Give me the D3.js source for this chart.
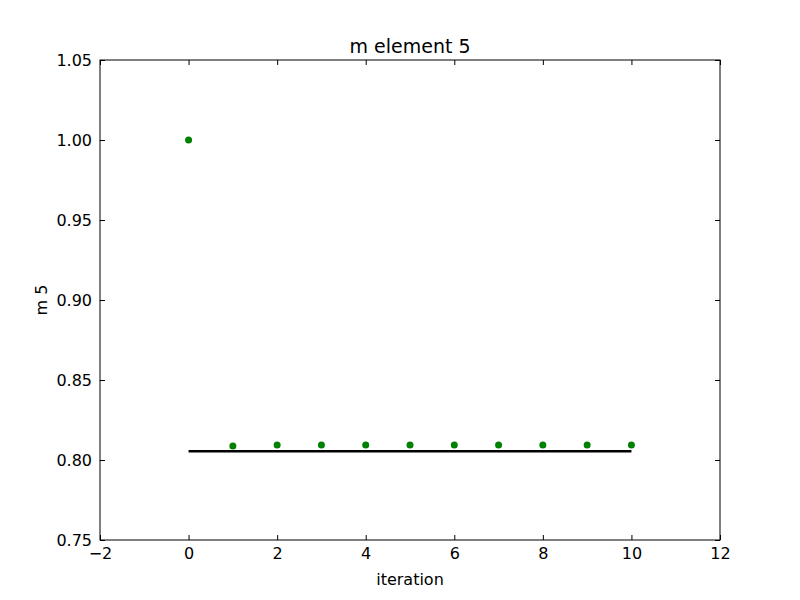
<!DOCTYPE html>
<html>
<head>
<meta charset="utf-8">
<script src="https://cdn.jsdelivr.net/npm/d3@7"></script>
<style>
  body { margin: 0; background: #fff; }
  text { font-family: "DejaVu Sans", sans-serif; }
</style>
</head>
<body>
<svg width="800" height="600"></svg>
<script>
// data
var iterations = [0, 1, 2, 3, 4, 5, 6, 7, 8, 9, 10];
var mValues = [1.0, 0.80875, 0.8094, 0.8094, 0.8094, 0.8094, 0.8094, 0.8094, 0.8094, 0.8094, 0.8094];
var refLineX = [0, 10];
var refLineY = 0.8054;
var xTicks = [-2, 0, 2, 4, 6, 8, 10, 12];
var yTicks = [0.75, 0.80, 0.85, 0.90, 0.95, 1.00, 1.05];

var svg = d3.select("svg"),
    pLeft = 100, pRight = 720, pTop = 60, pBottom = 540;

var x = d3.scaleLinear().domain([-2, 12]).range([pLeft, pRight]);
var y = d3.scaleLinear().domain([0.75, 1.05]).range([pBottom, pTop]);

// ticks pointing inward on all four sides
svg.append("g")
  .attr("transform", "translate(0," + pBottom + ")")
  .call(d3.axisBottom(x).tickValues(xTicks).tickSizeInner(-5).tickSizeOuter(0).tickPadding(8)
    .tickFormat(function (d) { return d < 0 ? "\u2212" + Math.abs(d) : d; }));
svg.append("g")
  .attr("transform", "translate(0," + pTop + ")")
  .call(d3.axisTop(x).tickValues(xTicks).tickSizeInner(-5).tickSizeOuter(0).tickFormat(""));
svg.append("g")
  .attr("transform", "translate(" + pLeft + ",0)")
  .call(d3.axisLeft(y).tickValues(yTicks).tickSizeInner(-5).tickSizeOuter(0).tickPadding(8)
    .tickFormat(d3.format(".2f")));
svg.append("g")
  .attr("transform", "translate(" + pRight + ",0)")
  .call(d3.axisRight(y).tickValues(yTicks).tickSizeInner(-5).tickSizeOuter(0).tickFormat(""));

svg.selectAll(".domain").remove();
svg.selectAll(".tick text").attr("font-size", "16px").attr("fill", "#000")
  .style("font-family", "DejaVu Sans, sans-serif");
svg.selectAll(".tick line").attr("stroke", "#000");

svg.append("rect")
  .attr("x", pLeft).attr("y", pTop)
  .attr("width", pRight - pLeft).attr("height", pBottom - pTop)
  .attr("fill", "none").attr("stroke", "#000").attr("stroke-width", 1);

// reference line
svg.append("line")
  .attr("x1", x(refLineX[0])).attr("x2", x(refLineX[1]))
  .attr("y1", y(refLineY)).attr("y2", y(refLineY))
  .attr("stroke", "#000").attr("stroke-width", 2.5);

// points
svg.selectAll("circle.pt")
  .data(iterations)
  .enter().append("circle")
  .attr("class", "pt")
  .attr("cx", function (d) { return x(d); })
  .attr("cy", function (d, i) { return y(mValues[i]); })
  .attr("r", 3.5)
  .attr("fill", "green");

svg.append("text")
  .attr("x", (pLeft + pRight) / 2).attr("y", 53)
  .attr("text-anchor", "middle").attr("font-size", "19px")
  .text("m element 5");

svg.append("text")
  .attr("x", (pLeft + pRight) / 2).attr("y", 585)
  .attr("text-anchor", "middle").attr("font-size", "16px")
  .text("iteration");

svg.append("text")
  .attr("transform", "translate(47," + (pTop + pBottom) / 2 + ") rotate(-90)")
  .attr("text-anchor", "middle").attr("font-size", "16px")
  .text("m 5");
</script>
</body>
</html>
